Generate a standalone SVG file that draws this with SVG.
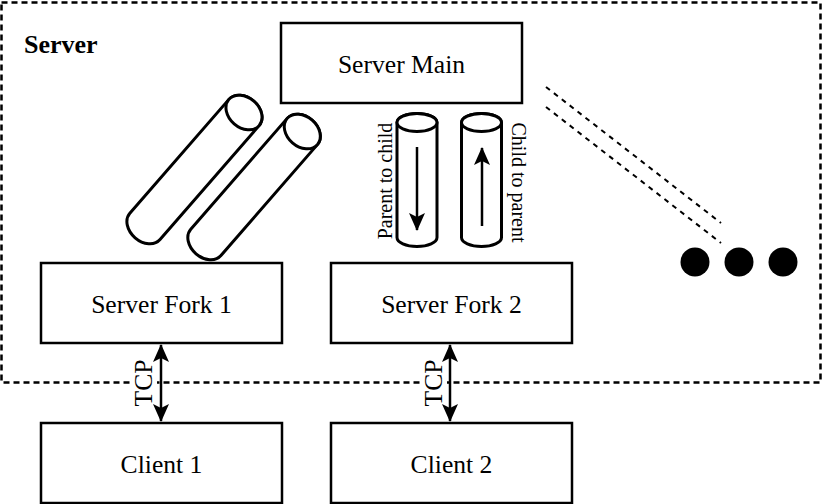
<svg xmlns="http://www.w3.org/2000/svg" width="826" height="504" viewBox="0 0 826 504">
<style>
.box{fill:#fff;stroke:#000;stroke-width:2.5}
.lbl{font-family:"Liberation Serif","Times New Roman",serif;font-size:25.6px;fill:#000;text-anchor:middle}
.small{font-family:"Liberation Serif","Times New Roman",serif;font-size:20px;fill:#000;text-anchor:middle}
.cyl{fill:#fff;stroke:#000;stroke-width:3}
.edge{fill:none;stroke:#000;stroke-width:2.5}
.dash{fill:none;stroke:#000;stroke-width:2;stroke-dasharray:5 5}
</style>
<defs>
<marker id="arr" viewBox="0 0 18 16" refX="17" refY="8" markerWidth="18" markerHeight="16" markerUnits="userSpaceOnUse" orient="auto-start-reverse">
<path d="M0,0 L18,8 L0,16 L4,8 Z" fill="#000"/>
</marker>
</defs>
<rect id="server-group" x="1.5" y="2.5" width="819" height="380" fill="none" stroke="#000" stroke-width="2.5" stroke-dasharray="6 4"/>
<text x="24" y="53" font-family="Liberation Serif, Times New Roman, serif" font-size="26px" font-weight="bold">Server</text>

<g id="server-main"><rect class="box" x="281" y="23" width="241" height="80"/><text class="lbl" x="401.5" y="73">Server Main</text></g>
<g id="server-fork-1"><rect class="box" x="41" y="263" width="241" height="80"/><text class="lbl" x="161.5" y="313">Server Fork 1</text></g>
<g id="server-fork-2"><rect class="box" x="331" y="263" width="241" height="80"/><text class="lbl" x="451.5" y="313">Server Fork 2</text></g>
<g id="client-1"><rect class="box" x="41" y="423" width="241" height="80"/><text class="lbl" x="161.5" y="473">Client 1</text></g>
<g id="client-2"><rect class="box" x="331" y="423" width="241" height="80"/><text class="lbl" x="451.5" y="473">Client 2</text></g>

<g id="pipe-diag-1" transform="translate(244,112.5) rotate(41)">
<path class="cyl" d="M-20,0 A20,15 0 0 1 20,0 L20,151 A20,15 0 0 1 -20,151 Z"/>
<ellipse class="cyl" cx="0" cy="0" rx="20" ry="15"/>
</g>
<g id="pipe-diag-2" transform="translate(302.3,131.5) rotate(41)">
<path class="cyl" d="M-20,0 A20,15 0 0 1 20,0 L20,147 A20,15 0 0 1 -20,147 Z"/>
<ellipse class="cyl" cx="0" cy="0" rx="20" ry="15"/>
</g>

<g id="pipe-parent-to-child">
<path class="cyl" d="M397,122.5 A20,9 0 0 1 437,122.5 L437,237.5 A20,9 0 0 1 397,237.5 Z"/>
<ellipse class="cyl" cx="417" cy="122.5" rx="20" ry="9"/>
<text class="small" transform="translate(392,181) rotate(-90)">Parent to child</text>
</g>
<g id="pipe-child-to-parent">
<path class="cyl" d="M461.5,122.5 A20,9 0 0 1 501.5,122.5 L501.5,237.5 A20,9 0 0 1 461.5,237.5 Z"/>
<ellipse class="cyl" cx="481.5" cy="122.5" rx="20" ry="9"/>
<text class="small" transform="translate(511.5,182.5) rotate(90)">Child to parent</text>
</g>

<g id="more">
<line class="dash" x1="546" y1="87" x2="721" y2="223"/>
<line class="dash" x1="546" y1="107" x2="721" y2="243"/>
<circle cx="695" cy="262" r="14.5" fill="#000"/>
<circle cx="739" cy="262" r="14.5" fill="#000"/>
<circle cx="783" cy="262" r="14.5" fill="#000"/>
</g>

<g id="connectors">
<line class="edge" x1="417" y1="147" x2="417" y2="230" marker-end="url(#arr)"/>
<line class="edge" x1="482" y1="226" x2="482" y2="148" marker-end="url(#arr)"/>
<rect x="130" y="360" width="27" height="46" fill="#fff"/>
<line class="edge" x1="161" y1="345" x2="161" y2="421" marker-start="url(#arr)" marker-end="url(#arr)"/>
<text class="lbl" transform="translate(152,383) rotate(-90)">TCP</text>
<rect x="420" y="360" width="27" height="46" fill="#fff"/>
<line class="edge" x1="450" y1="345" x2="450" y2="421" marker-start="url(#arr)" marker-end="url(#arr)"/>
<text class="lbl" transform="translate(442,383) rotate(-90)">TCP</text>
</g>
</svg>
